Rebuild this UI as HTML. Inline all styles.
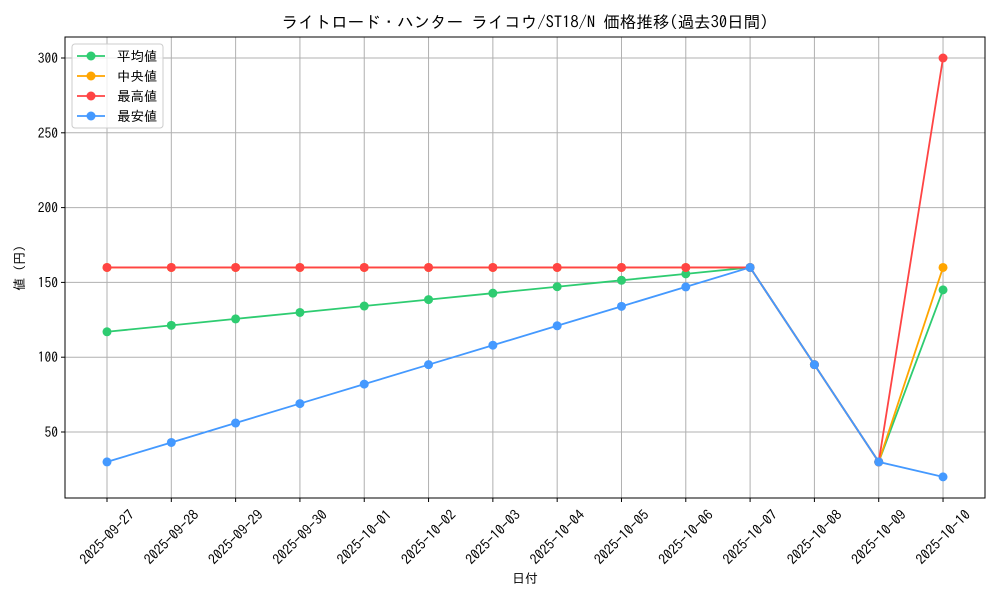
<!DOCTYPE html>
<html><head><meta charset="utf-8"><style>
html,body{margin:0;padding:0;background:#fff;}
svg{display:block;font-family:"IPAGothic","Liberation Sans","Noto Sans CJK JP",sans-serif;}
</style></head><body>
<svg id="c" width="1000" height="600" xmlns="http://www.w3.org/2000/svg"></svg>
<script>
const s=document.getElementById('c');
const L=65,R=985,T=37,B=498;
const X=i=>107+i*64.31, Y=v=>58+(300-v)*1.496;
let h='';
const dates=['2025-09-27','2025-09-28','2025-09-29','2025-09-30','2025-10-01','2025-10-02','2025-10-03','2025-10-04','2025-10-05','2025-10-06','2025-10-07','2025-10-08','2025-10-09','2025-10-10'];
dates.forEach((d,i)=>{const x=X(i);h+=`<line x1="${x}" y1="${T}" x2="${x}" y2="${B}" stroke="#b0b0b0" stroke-width="1"/>`;
h+=`<line x1="${x}" y1="${B}" x2="${x}" y2="${B+4}" stroke="#000"/>`;
h+=`<text transform="translate(${x},${537}) rotate(-45)" text-anchor="middle" font-size="14" dominant-baseline="central">${d}</text>`;});
[50,100,150,200,250,300].forEach(v=>{const y=Y(v);h+=`<line x1="${L}" y1="${y}" x2="${R}" y2="${y}" stroke="#b0b0b0"/>`;
h+=`<line x1="${L-4}" y1="${y}" x2="${L}" y2="${y}" stroke="#000"/>`;
h+=`<text x="${L-7}" y="${y+5}" text-anchor="end" font-size="13.5">${v}</text>`;});
const ser=[
['#2ecc71',[117,121.3,125.6,129.9,134.2,138.5,142.8,147.1,151.4,155.7,160,95,30,145]],
['#ffa500',[160,160,160,160,160,160,160,160,160,160,160,95,30,160]],
['#ff4444',[160,160,160,160,160,160,160,160,160,160,160,95,30,300]],
['#4499ff',[30,43,56,69,82,95,108,121,134,147,160,95,30,20]]];
ser.forEach(([c,d])=>{h+=`<polyline fill="none" stroke="${c}" stroke-width="1.8" points="${d.map((v,i)=>X(i)+','+Y(v)).join(' ')}"/>`;
d.forEach((v,i)=>h+=`<circle cx="${X(i)}" cy="${Y(v)}" r="4.5" fill="${c}"/>`);});
h+=`<rect x="${L}" y="${T}" width="${R-L}" height="${B-T}" fill="none" stroke="#000" stroke-width="1"/>`;
h+=`<rect x="72" y="44" width="91" height="84" rx="3" fill="#fff" fill-opacity="0.8" stroke="#ccc"/>`;
['平均値','中央値','最高値','最安値'].forEach((t,i)=>{const y=56+i*20;const c=ser[i][0];
h+=`<line x1="77" y1="${y}" x2="105" y2="${y}" stroke="${c}" stroke-width="1.8"/><circle cx="91" cy="${y}" r="4.5" fill="${c}"/>`;
h+=`<text x="117" y="${y+5}" font-size="13.5">${t}</text>`;});
h+=`<text x="525" y="28" text-anchor="middle" font-size="16.5">ライトロード・ハンター ライコウ/ST18/N 価格推移(過去30日間)</text>`;
h+=`<text x="525" y="583" text-anchor="middle" font-size="13">日付</text>`;
h+=`<text transform="translate(24,268) rotate(-90)" text-anchor="middle" font-size="13">値 (円)</text>`;
s.innerHTML=h;
</script>
</body></html>
